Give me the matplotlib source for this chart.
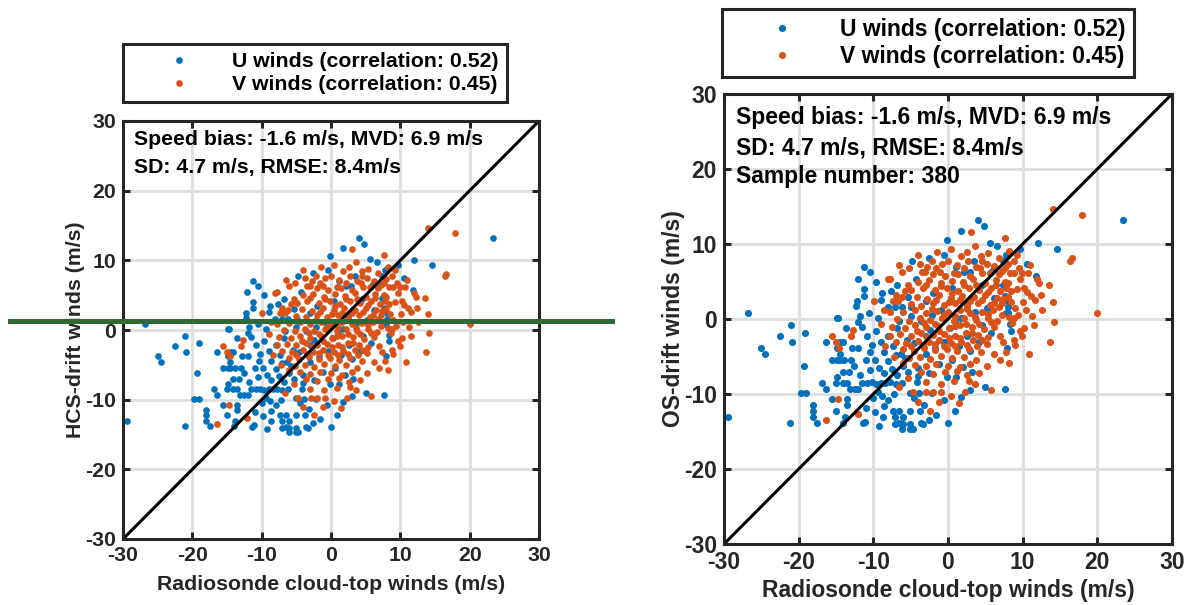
import numpy as np
import matplotlib
matplotlib.use('Agg')
import matplotlib.pyplot as plt

BLUE   = '#0072BD'
ORANGE = '#D95319'
AXC    = '#262626'
GRID   = '#dedede'
GREEN  = '#2d6a35'

TICKS = [-30, -20, -10, 0, 10, 20, 30]

# U winds: (radiosonde, drift) pairs
u_points = [
    (-29.4, -13.1), (-26.8, 0.8), (-25.0, -3.8), (-24.5, -4.6), (-22.5, -2.3), (-21.0, -0.8),
    (-20.9, -3.1), (-21.1, -13.8), (-19.7, -9.9), (-19.0, -9.9), (-19.3, -6.2), (-19.1, -1.9),
    (-18.1, -11.5), (-18.1, -12.2), (-18.1, -13.1), (-17.5, -13.8), (-16.9, -8.5), (-16.4, -9.3),
    (-16.4, -3.1), (-15.6, -5.4), (-15.6, -10.7), (-15.0, -8.5), (-15.0, -12.2), (-14.9, 0.1),
    (-14.7, 0.1), (-14.9, -3.8), (-14.9, -5.4), (-14.9, -7.7), (-14.5, -3.1), (-14.1, -3.1),
    (-14.5, -4.6), (-14.5, -5.4), (-14.1, -7.0), (-14.1, -8.5), (-14.0, -13.8), (-13.9, -5.4),
    (-13.8, -13.1), (-13.5, -8.5), (-13.5, -10.7), (-13.5, -11.5), (-13.3, -7.0), (-13.1, -9.3),
    (-13.0, -5.4), (-12.8, -3.8), (-12.5, -9.3), (-12.3, 1.7), (-12.1, 5.4), (-12.0, -0.4),
    (-12.0, -3.8), (-12.0, -9.3), (-11.4, -13.9), (-11.3, 7.0), (-11.2, 4.0), (-11.2, 3.1),
    (-11.1, -13.7), (-10.5, 6.3),
    (-11.5, -8.5), (-10.8, -8.5), (-10.2, -8.4), (-9.6, -8.6), (-9.0, -8.5), (-8.4, -8.5),
    (-7.8, -8.4), (-7.0, -8.6), (-6.2, -8.5),
    (-11.0, -5.5), (-10.5, -6.8), (-9.8, -5.4), (-9.2, -6.5), (-8.6, -7.2), (-8.0, -5.6),
    (-7.5, -6.6), (-6.8, -7.4), (-6.0, -6.2), (-5.3, -7.0),
    (-11.5, -1.0), (-10.8, -2.2), (-10.2, -3.5), (-9.6, -1.6), (-9.0, -3.0), (-8.6, -4.4),
    (-8.0, -2.2), (-7.4, -3.6), (-6.8, -1.2), (-6.3, -4.6), (-5.5, -2.8), (-11.8, 0.4),
    (-10.6, 0.8), (-9.4, 0.2),
    (-9.4, -9.7), (-8.8, -10.2), (-8.0, -10.8), (-7.2, -10.0), (-5.1, -9.8), (-4.5, -10.5),
    (-3.9, -9.9), (-2.2, -9.9), (-0.6, -10.8),
    (-7.4, -12.2), (-6.5, -12.2), (-5.1, -12.2), (-3.8, -12.2), (0.9, -12.2),
    (-8.7, -13.1), (-7.1, -13.1), (-6.0, -13.1), (-7.1, -14.0), (-6.0, -14.0), (-5.1, -14.0),
    (-3.3, -14.0), (0.0, -13.9), (-6.1, -14.6), (-5.1, -14.6), (-4.7, -14.6), (-3.6, -13.9),
    (-6.5, -13.9),
    (-0.2, -7.7), (1.1, -7.7), (-2.5, -7.2), (-4.0, -6.5), (-1.2, -6.0), (0.6, -5.5),
    (2.0, -6.4), (3.2, -7.0), (-3.0, -4.6), (-1.8, -3.8), (-4.6, -3.2), (-0.5, -3.0),
    (1.5, -3.6), (3.0, -4.2), (2.6, -2.2), (4.2, -3.0), (-2.4, -1.5), (0.3, -1.2),
    (-3.6, -0.2), (1.8, 0.2), (4.6, -0.8), (5.8, -1.8), (3.6, 0.9), (5.2, 1.5),
    (6.2, 2.8), (7.3, 4.6), (7.6, 3.1), (8.1, 2.4), (8.1, 1.6), (7.8, 0.8), (8.0, 0.8),
    (8.3, -0.7), (8.4, -1.6), (7.9, -3.8), (7.7, -9.3), (5.0, -9.0), (3.0, -9.5),
    (-8.1, 1.6), (-7.1, 1.6), (-6.2, 1.6), (-4.9, 1.6), (-5.4, 3.0), (-4.3, 5.4),
    (-4.8, 7.8), (-0.5, 8.6), (1.1, 7.0), (2.1, 6.3), (2.9, 6.3), (3.5, 7.7),
    (4.0, 13.2), (4.8, 12.4), (6.6, 9.7), (7.8, 8.6), (7.4, 7.8), (10.6, 7.4),
    (11.8, 5.8), (12.0, 10.1), (14.6, 9.3), (23.4, 13.2), (-2.0, 3.5), (0.5, 4.2),
    (-1.0, 1.2), (2.5, 2.0), (4.5, 4.5), (-3.0, 2.4), (-6.8, 4.5), (-8.8, 3.5),
    (-9.6, 5.0), (-2.2, 0.5), (1.0, -0.3),
    (-10.0, -10.5), (-11.0, -11.8), (-9.8, -12.4), (-8.6, -11.6), (-9.2, -14.2), (-10.4, -4.4),
    (-12.6, -6.2), (-11.8, -7.4), (-7.0, -4.8), (-5.8, -5.2), (-4.2, -8.4), (-3.2, -11.4),
    (-1.6, -12.8), (-2.6, -13.4), (-4.0, -7.6), (-6.6, -0.2), (-5.0, 0.4), (-3.0, -2.2),
    (1.8, -10.4), (-13.6, -1.2), (-12.2, 2.4), (-9.0, 2.6), (-7.6, 3.8), (-2.6, 8.2),
    (5.6, 10.2), (-0.2, 10.6), (1.8, 11.8), (9.6, 9.4), (6.0, 6.6),
]

# V winds
v_points = [
    (14.0, 14.7), (17.9, 13.9), (3.1, 11.6), (16.6, 8.1), (16.4, 7.8), (20.0, 0.8),
    (14.2, -0.4), (13.7, -3.1), (10.8, -4.6), (14.0, 2.3), (13.5, 4.6), (11.9, 5.3),
    (11.1, 3.1), (10.1, 2.3), (8.8, 0.1), (9.6, -1.6), (9.9, -2.3), (6.9, -2.3),
    (7.3, -3.1), (6.9, -5.4), (-15.6, -2.3), (-15.0, -3.1), (-14.6, -3.8), (-12.7, -1.5),
    (-13.0, -2.3), (-14.7, -10.7), (-16.4, -13.5), (-12.1, -12.7), (-4.0, 8.6), (7.6, 10.8),
    (8.2, 9.1), (-7.8, 5.4), (-8.1, 5.3), (-6.1, 6.3), (-5.4, 4.5), (-9.9, 2.4),
    (-7.4, 2.4), (-6.7, 2.4), (-4.9, 3.9),
    (-2.2, 7.8), (0.0, 7.7), (2.7, 7.7), (4.5, 7.7), (-3.5, 6.3), (-3.1, 6.3),
    (-1.6, 6.8), (-1.1, 6.3), (0.8, 6.2), (5.6, 6.2), (4.6, 6.2), (9.5, 6.8),
    (9.9, 6.2), (10.7, 6.2), (8.9, 6.2), (8.3, 6.2), (7.6, 6.8), (9.7, 5.3),
    (8.4, 3.8), (8.5, 2.3),
    (-4.0, 5.0), (-2.6, 5.2), (-1.0, 4.8), (0.6, 5.1), (2.0, 4.9), (3.4, 5.3), (5.0, 4.8),
    (6.4, 5.2), (7.6, 5.0),
    (-5.8, 3.8), (-3.4, 4.2), (-1.8, 3.9), (-0.2, 4.1), (1.3, 3.8), (2.8, 4.2), (4.2, 3.9),
    (5.7, 4.1), (7.0, 3.8), (9.2, 4.0),
    (-6.2, 2.9), (-4.2, 3.0), (-2.8, 2.7), (-1.2, 3.2), (0.4, 2.8), (1.9, 3.1), (3.5, 2.9),
    (5.0, 3.2), (6.5, 2.8), (8.0, 3.0),
    (-5.0, 2.0), (-3.6, 1.8), (-2.0, 2.2), (-0.6, 1.9), (1.0, 2.1), (2.5, 1.8), (4.0, 2.2),
    (5.6, 1.9), (7.2, 2.1), (9.0, 1.5),
    (-7.8, 0.9), (-6.0, 1.0), (-4.4, 1.2), (-3.0, 0.8), (-1.5, 1.1), (0.0, 0.9), (1.6, 1.2),
    (3.0, 0.8), (4.5, 1.0), (6.0, 1.2), (7.2, 0.6),
    (-6.8, 0.0), (-5.2, -0.2), (-3.8, 0.2), (-2.4, -0.1), (-0.8, 0.1), (0.8, -0.2),
    (2.2, 0.1), (3.8, -0.1), (5.3, 0.2), (6.6, -0.3),
    (-7.5, -1.0), (-5.8, -1.2), (-4.4, -0.8), (-3.0, -1.1), (-1.4, -0.9), (0.2, -1.2),
    (1.6, -0.8), (3.2, -1.0), (4.8, -1.3), (6.2, -1.0),
    (-6.4, -2.0), (-5.0, -2.2), (-3.6, -1.8), (-2.0, -2.1), (-0.6, -2.0), (1.0, -2.2),
    (2.4, -1.8), (4.0, -2.1), (5.4, -2.4),
    (-7.0, -3.0), (-5.6, -3.2), (-4.0, -2.9), (-2.6, -3.1), (-1.2, -2.8), (0.4, -3.2),
    (1.8, -3.0), (3.4, -2.8), (5.2, -3.3),
    (-6.0, -4.0), (-4.6, -4.2), (-3.2, -3.9), (-1.8, -4.1), (-0.2, -4.0), (1.2, -4.3),
    (2.8, -4.0), (4.4, -4.4),
    (-5.2, -5.2), (-3.8, -5.0), (-2.4, -5.3), (-1.0, -4.9), (0.6, -5.2), (2.2, -5.0), (3.8, -5.4),
    (-4.4, -6.1), (-3.0, -6.3), (-1.6, -6.0), (0.0, -6.2), (1.6, -6.4), (3.0, -6.0),
    (-3.6, -7.0), (-2.0, -7.3), (-0.4, -7.1), (1.2, -6.9), (2.6, -7.4),
    (-4.7, -9.7), (-2.9, -9.7), (-2.0, -9.7), (-0.9, -9.7), (2.3, -9.7), (5.8, -9.5),
    (-3.0, -8.4), (-1.0, -8.6), (0.8, -8.3), (3.6, -8.6), (-2.4, -12.2), (-4.0, -11.0),
    (1.5, -11.2),
    (-6.5, 7.2), (-2.8, 7.0), (1.8, 8.4), (5.4, 8.8), (3.6, 9.8), (6.2, 7.1), (0.4, 9.4),
    (-1.5, 9.0),
    (8.6, -0.5), (9.4, 0.6), (10.4, 1.2), (11.5, -0.8), (9.0, -3.5), (8.2, -5.8),
    (10.2, 4.1), (12.4, 3.2), (8.0, 4.8), (11.0, 7.2),
    (-2.0, 6.0), (-0.4, 5.7), (1.4, 6.0), (3.0, 5.8), (4.3, 6.8), (6.8, 6.0), (8.0, 7.3),
    (-3.0, 4.6), (-0.9, 4.4), (0.6, 3.5), (2.2, 4.5), (3.7, 4.5), (5.4, 3.6), (6.4, 4.6),
    (7.8, 4.2),
    (-1.6, 2.6), (0.2, 2.3), (1.6, 2.5), (3.0, 2.4), (4.6, 2.6), (6.1, 2.2), (7.4, 2.7),
    (-2.2, 1.4), (-0.6, 0.5), (1.0, 0.4), (2.6, 1.4), (3.6, 0.3), (5.4, 0.7), (6.8, 1.6),
    (8.2, 0.3),
    (-3.2, -0.5), (-1.8, -0.6), (0.9, -0.9), (2.4, -0.6), (4.2, -0.6), (5.8, -0.4),
    (-4.2, -1.6), (-2.8, -2.4), (-1.2, -1.6), (0.2, -2.5), (1.6, -2.5), (3.2, -1.8), (4.6, -2.8),
    (-5.0, -3.6), (-3.4, -3.4), (-1.8, -3.3), (-0.5, -3.6), (1.0, -3.6), (2.5, -3.5), (3.9, -3.6),
    (1.2, 7.2), (2.2, 6.8), (3.8, 7.0), (5.2, 7.4), (6.8, 8.2), (7.2, 6.4), (8.8, 7.8),
    (9.2, 8.6), (2.6, 9.0), (4.4, 8.4), (-0.8, 7.4), (-3.8, 7.4), (-5.2, 6.8), (-7.0, 3.2),
    (-8.6, 1.2), (-9.0, -0.6), (-7.8, -2.2), (-8.4, -3.6), (-7.2, -5.0), (-6.0, -5.8),
    (-5.4, -7.8), (-6.6, -9.0), (-1.2, -11.0), (0.4, -10.2), (2.8, -8.2), (4.2, -7.2),
    (5.2, -6.2), (6.2, -4.6), (7.8, -4.4), (8.8, -2.8), (10.2, -1.2), (11.2, 0.4),
    (12.6, 1.2), (11.6, 2.6), (10.6, 3.6), (12.2, 4.8),
]

U_LABEL = 'U winds (correlation: 0.52)'
V_LABEL = 'V winds (correlation: 0.45)'
STATS = ['Speed bias: -1.6 m/s, MVD: 6.9 m/s', 'SD: 4.7 m/s, RMSE: 8.4m/s']
SAMPLE = 'Sample number: 380'
GREEN_Y = 1.3

plt.rcParams['font.family'] = ['Liberation Sans', 'DejaVu Sans']
plt.rcParams['font.weight'] = 'bold'
plt.rcParams['axes.unicode_minus'] = False

W, H = 1189, 605
fig = plt.figure(figsize=(W / 100, H / 100), dpi=100)
fig.patch.set_facecolor('white')


def px_box(x0, y0, x1, y1):
    return [x0 / W, 1 - y1 / H, (x1 - x0) / W, (y1 - y0) / H]


def panel(rect, ylabel, stats, fs, ms, leg_xy, ylab_x, xlab_y, text_y):
    ax = fig.add_axes(rect)
    u = np.array(u_points)
    v = np.array(v_points)
    lu, = ax.plot(u[:, 0], u[:, 1], 'o', color=BLUE, ms=ms, mec='none', ls='none', label=U_LABEL, zorder=2)
    lv, = ax.plot(v[:, 0], v[:, 1], 'o', color=ORANGE, ms=ms, mec='none', ls='none', label=V_LABEL, zorder=3)
    ax.plot([-30, 30], [-30, 30], color='black', lw=2.2, zorder=4)

    ax.set_xlim(-30, 30)
    ax.set_ylim(-30, 30)
    ax.set_xticks(TICKS)
    ax.set_yticks(TICKS)
    ax.grid(True, color=GRID, linewidth=2.0)
    ax.set_axisbelow(True)
    ax.tick_params(direction='in', top=True, right=True, length=5, width=2.2,
                   colors=AXC, labelsize=fs, pad=5)
    for sp in ax.spines.values():
        sp.set_linewidth(2.2)
        sp.set_color(AXC)
        sp.set_zorder(6)

    ax.set_xlabel('Radiosonde cloud-top winds (m/s)', fontsize=fs, color=AXC, fontweight='bold')
    ax.set_ylabel(ylabel, fontsize=fs, color=AXC, fontweight='bold')
    ax.xaxis.set_label_coords(0.5, xlab_y)
    ax.yaxis.set_label_coords(ylab_x, 0.5)

    for line, ty in zip(stats, text_y):
        ax.text(0.026, ty, line, transform=ax.transAxes, fontsize=fs, fontweight='bold',
                color='black', va='center', ha='left', zorder=7)

    leg = fig.legend(handles=[lu, lv], loc='upper left', bbox_to_anchor=leg_xy,
                     bbox_transform=fig.transFigure, borderaxespad=0, fontsize=fs,
                     handlelength=4.5, handletextpad=0.25, labelspacing=0.2,
                     borderpad=0.38, numpoints=1, fancybox=False, framealpha=1,
                     edgecolor=AXC, markerscale=1.0)
    leg.get_frame().set_linewidth(2.2)
    for t in leg.get_texts():
        t.set_color('black')
    return ax


# left panel (HCS)
ax_l = panel(px_box(123, 121, 539, 539), 'HCS-drift winds (m/s)', STATS, 15.3, 4.8,
             (123 / W, 1 - 44 / H), -0.092, -0.085, [0.955, 0.888])
ax_l.axhline(GREEN_Y, xmin=-0.272, xmax=1.175, color=GREEN, lw=3.6, clip_on=False, zorder=8)

# right panel (OS)
ax_r = panel(px_box(724, 94, 1172, 544), 'OS-drift winds (m/s)', STATS + [SAMPLE], 16.5, 5.1,
             (722 / W, 1 - 9 / H), -0.088, -0.078, [0.947, 0.881, 0.816])

fig.savefig('out.png', dpi=100, facecolor='white')
